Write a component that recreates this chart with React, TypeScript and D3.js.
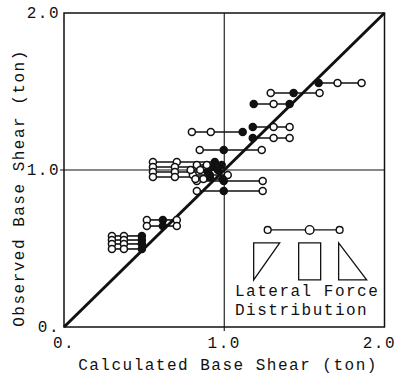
import React, { useEffect, useRef } from "react";
import * as d3 from "d3";

// observed base shear for each test (ton), one row of three points each
const observed = [1.554, 1.49, 1.42, 1.274, 1.204, 1.242, 1.127, 0.93, 0.866, 1.051, 1.019, 0.987, 0.955, 1.032, 0.968, 1.0, 0.943, 0.682, 0.643, 0.58, 0.554, 0.529, 0.497];
// calculated base shear (ton) for the three lateral force distributions
const calcLeft = [1.589, 1.29, 1.184, 1.178, 1.178, 0.798, 0.847, 0.829, 0.829, 0.555, 0.555, 0.555, 0.555, 0.829, 0.804, 0.79, 0.82, 0.517, 0.517, 0.299, 0.299, 0.299, 0.299];
const calcMid = [1.707, 1.433, 1.308, 1.308, 1.308, 0.916, 0.997, 0.997, 0.997, 0.704, 0.692, 0.692, 0.692, 0.891, 0.91, 0.85, 0.87, 0.617, 0.617, 0.374, 0.374, 0.374, 0.374];
const calcRight = [1.857, 1.595, 1.408, 1.408, 1.408, 1.115, 1.234, 1.24, 1.24, 0.941, 0.922, 0.897, 0.91, 0.984, 1.022, 0.96, 0.99, 0.704, 0.704, 0.486, 0.486, 0.486, 0.486];
// which of the three points in a row is drawn solid
const filledIdx = [[0], [1], [0, 2], [0], [0], [2], [1], [1], [1], [2], [2], [2], [2], [2], [1], [2], [2], [1], [1], [2], [2], [2], [2]];

const ticks = [0, 1, 2];
const tickText = ["0.", "1.0", "2.0"];
const legendX = [1.271, 1.533, 1.72];
const legendY = 0.618;

const FONT = "'Liberation Mono', 'DejaVu Sans Mono', monospace";

const App = () => {
  const svgRef = useRef<SVGSVGElement>(null);

  useEffect(() => {
    const svg = d3.select(svgRef.current);
    svg.selectAll("*").remove();

    const x = d3.scaleLinear().domain([0, 2]).range([64, 384.5]);
    const y = d3.scaleLinear().domain([0, 2]).range([327, 13]);

    const g = svg.append("g");

    // grid lines at 1.0
    g.append("line").attr("x1", x(1)).attr("x2", x(1)).attr("y1", y(0) + 4).attr("y2", y(2))
      .attr("stroke", "#111").attr("stroke-width", 1.1);
    g.append("line").attr("x1", x(0) - 4).attr("x2", x(2)).attr("y1", y(1)).attr("y2", y(1))
      .attr("stroke", "#111").attr("stroke-width", 1.1);

    // frame
    g.append("rect").attr("x", x(0)).attr("y", y(2)).attr("width", x(2) - x(0)).attr("height", y(0) - y(2))
      .attr("fill", "none").attr("stroke", "#111").attr("stroke-width", 1.5);

    // tick labels
    g.selectAll(".xt").data(ticks).join("text")
      .attr("x", d => (d === 2 ? 396 : x(d))).attr("y", 348)
      .attr("text-anchor", d => (d === 2 ? "end" : "middle"))
      .text((d, i) => tickText[i]);
    g.selectAll(".yt").data(ticks).join("text")
      .attr("x", 60).attr("y", d => y(d) + 5)
      .attr("text-anchor", "end")
      .text((d, i) => tickText[i]);

    // axis titles
    g.append("text").attr("x", 228).attr("y", 370).attr("text-anchor", "middle")
      .text("Calculated Base Shear (ton)");
    g.append("text").attr("transform", "translate(24,188) rotate(-90)").attr("text-anchor", "middle")
      .text("Observed Base Shear (ton)");

    g.selectAll("text").attr("font-family", FONT).attr("font-size", 16)
      .attr("letter-spacing", 1.5).attr("fill", "#111");

    // connecting lines of each row
    g.selectAll(".row").data(observed).join("line")
      .attr("x1", (d, i) => x(calcLeft[i])).attr("x2", (d, i) => x(calcRight[i]))
      .attr("y1", d => y(d)).attr("y2", d => y(d))
      .attr("stroke", "#111").attr("stroke-width", 1.6);

    // 1:1 line
    g.append("line").attr("x1", x(0)).attr("y1", y(0)).attr("x2", x(2)).attr("y2", y(2))
      .attr("stroke", "#111").attr("stroke-width", 3);

    const pts: { cx: number; cy: number; filled: boolean }[] = [];
    observed.forEach((o, i) => {
      [calcLeft[i], calcMid[i], calcRight[i]].forEach((c, j) => {
        pts.push({ cx: c, cy: o, filled: filledIdx[i].includes(j) });
      });
    });
    g.selectAll(".pt").data(pts).join("circle")
      .attr("cx", d => x(d.cx)).attr("cy", d => y(d.cy)).attr("r", 3.5)
      .attr("fill", d => (d.filled ? "#111" : "#fff"))
      .attr("stroke", "#111").attr("stroke-width", 1.5);

    // legend
    const lg = g.append("g");
    lg.append("line").attr("x1", x(legendX[0])).attr("x2", x(legendX[2]))
      .attr("y1", y(legendY)).attr("y2", y(legendY)).attr("stroke", "#111").attr("stroke-width", 1.3);
    lg.selectAll("circle").data(legendX).join("circle")
      .attr("cx", d => x(d)).attr("cy", y(legendY)).attr("r", (d, i) => (i === 1 ? 4.3 : 3.4))
      .attr("fill", "#fff").attr("stroke", "#111").attr("stroke-width", 1.4);
    const ly = y(legendY);
    const shapes = [
      [[x(legendX[0]) - 14, ly + 13], [x(legendX[0]) + 12, ly + 13], [x(legendX[0]) - 14, ly + 50]],
      [[x(legendX[1]) - 11, ly + 13], [x(legendX[1]) + 11, ly + 13], [x(legendX[1]) + 11, ly + 50], [x(legendX[1]) - 11, ly + 50]],
      [[x(legendX[2]) - 1, ly + 13], [x(legendX[2]) - 1, ly + 50], [x(legendX[2]) + 27, ly + 50]],
    ];
    lg.selectAll("path").data(shapes).join("path")
      .attr("d", d => d3.line()(d as [number, number][]) + "Z")
      .attr("fill", "none").attr("stroke", "#111").attr("stroke-width", 1.3);
    lg.append("text").attr("x", 235).attr("y", 296).text("Lateral Force");
    lg.append("text").attr("x", 235).attr("y", 315).text("Distribution");
    lg.selectAll("text").attr("font-family", FONT).attr("font-size", 16)
      .attr("letter-spacing", 1.5).attr("fill", "#111");
  }, []);

  return (
    <svg ref={svgRef} width={397} height={377}
      style={{ position: "absolute", left: 0, top: 0, background: "#fff" }} />
  );
};

export default App;
